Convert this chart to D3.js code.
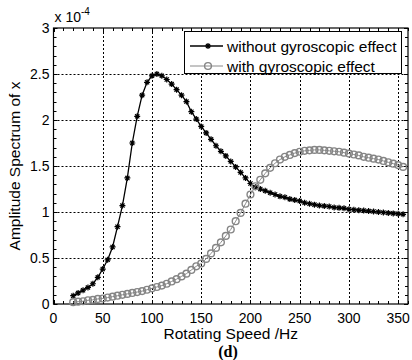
<!DOCTYPE html>
<html>
<head>
<meta charset="utf-8">
<script src="https://cdn.jsdelivr.net/npm/d3@7"></script>
<style>
  body { margin: 0; background: #fff; }
  text { font-family: "Liberation Sans", Arial, sans-serif; fill: #000; }
</style>
</head>
<body>
<div id="chart"></div>
<script>
// rotating speed, Hz
var speeds = [20, 25, 30, 35, 40, 45, 50, 55, 60, 65, 70, 75, 80, 85, 90, 95,
    100, 105, 110, 115, 120, 125, 130, 135, 140, 145, 150, 155, 160, 165, 170, 175,
    180, 185, 190, 195, 200, 205, 210, 215, 220, 225, 230, 235, 240, 245, 250, 255,
    260, 265, 270, 275, 280, 285, 290, 295, 300, 305, 310, 315, 320, 325, 330, 335,
    340, 345, 350, 355];

// amplitude (x 1e-4)
var withoutGyro = [0.09, 0.12, 0.15, 0.18, 0.22, 0.29, 0.38, 0.48, 0.62, 0.84, 1.07, 1.37, 1.75, 2.04, 2.27, 2.41,
    2.48, 2.50, 2.48, 2.44, 2.39, 2.33, 2.27, 2.20, 2.09, 2.01, 1.93, 1.86, 1.79, 1.72, 1.66, 1.61,
    1.55, 1.49, 1.43, 1.37, 1.31, 1.27, 1.25, 1.23, 1.21, 1.19, 1.17, 1.16, 1.14, 1.13, 1.12, 1.10,
    1.09, 1.08, 1.07, 1.065, 1.06, 1.05, 1.045, 1.04, 1.03, 1.025, 1.02, 1.015, 1.01, 1.005, 1.0, 0.995,
    0.99, 0.985, 0.98, 0.975];

var withGyro = [0.02, 0.025, 0.03, 0.04, 0.045, 0.055, 0.06, 0.07, 0.08, 0.09, 0.10, 0.11, 0.12, 0.13, 0.14, 0.155,
    0.17, 0.185, 0.20, 0.22, 0.245, 0.27, 0.30, 0.33, 0.37, 0.41, 0.44, 0.49, 0.55, 0.61, 0.67, 0.74,
    0.81, 0.90, 0.99, 1.09, 1.19, 1.28, 1.35, 1.42, 1.48, 1.53, 1.57, 1.60, 1.62, 1.64, 1.655, 1.665,
    1.67, 1.675, 1.675, 1.67, 1.665, 1.66, 1.655, 1.645, 1.635, 1.625, 1.615, 1.60, 1.59, 1.58, 1.57, 1.555,
    1.54, 1.525, 1.51, 1.49];

var xTicks = [0, 50, 100, 150, 200, 250, 300, 350];
var yTicks = [0, 0.5, 1, 1.5, 2, 2.5, 3];
var yTickLabels = ['0', '0.5', '1', '1.5', '2', '2.5', '3'];
var seriesNames = ['without gyroscopic effect', 'with gyroscopic effect'];

var width = 412, height = 360;
var margin = {top: 28, right: 4, bottom: 56, left: 53.5};

var svg = d3.select('#chart')
    .append('svg')
    .attr('width', width)
    .attr('height', height);

var x = d3.scaleLinear()
    .domain([0, 360])
    .range([margin.left, width - margin.right]);

var y = d3.scaleLinear()
    .domain([0, 3])
    .range([height - margin.bottom, margin.top]);

var x0 = x.range()[0], x1 = x.range()[1];
var y0 = y.range()[0], y1 = y.range()[1];

// grid
var grid = svg.append('g')
    .attr('stroke', '#000')
    .attr('stroke-width', 1)
    .attr('stroke-dasharray', '2,2');

grid.selectAll('.gx')
    .data(xTicks.filter(function(d) { return d > 0; }))
    .enter()
    .append('line')
    .attr('x1', function(d) { return Math.round(x(d)) + 0.5; })
    .attr('x2', function(d) { return Math.round(x(d)) + 0.5; })
    .attr('y1', y1)
    .attr('y2', y0);

grid.selectAll('.gy')
    .data(yTicks.filter(function(d) { return d > 0 && d < 3; }))
    .enter()
    .append('line')
    .attr('x1', x0)
    .attr('x2', x1)
    .attr('y1', function(d) { return Math.round(y(d)) + 0.5; })
    .attr('y2', function(d) { return Math.round(y(d)) + 0.5; });

// minor + major ticks, inward on all four sides
var ticks = svg.append('g')
    .attr('stroke', '#000')
    .attr('stroke-width', 1);

var xMinor = x.ticks(36);
var yMinor = y.ticks(30);

xMinor.forEach(function(d) {
    var px = Math.round(x(d)) + 0.5;
    var len = xTicks.indexOf(d) >= 0 ? 4 : 3;
    ticks.append('line').attr('x1', px).attr('x2', px).attr('y1', y0).attr('y2', y0 - len);
    ticks.append('line').attr('x1', px).attr('x2', px).attr('y1', y1).attr('y2', y1 + len);
});

yMinor.forEach(function(d) {
    var py = Math.round(y(d)) + 0.5;
    var len = yTicks.indexOf(d) >= 0 ? 4 : 3;
    ticks.append('line').attr('x1', x0).attr('x2', x0 + len).attr('y1', py).attr('y2', py);
    ticks.append('line').attr('x1', x1).attr('x2', x1 - len).attr('y1', py).attr('y2', py);
});

// frame
svg.append('rect')
    .attr('x', x0)
    .attr('y', y1)
    .attr('width', x1 - x0)
    .attr('height', y0 - y1)
    .attr('fill', 'none')
    .attr('stroke', '#000')
    .attr('stroke-width', 1.2);

// tick labels
svg.append('g')
    .selectAll('text')
    .data(xTicks)
    .enter()
    .append('text')
    .attr('x', function(d) { return x(d); })
    .attr('y', y0 + 19)
    .attr('text-anchor', 'middle')
    .attr('font-size', 14)
    .text(function(d) { return d; });

svg.append('g')
    .selectAll('text')
    .data(yTicks)
    .enter()
    .append('text')
    .attr('x', x0 - 4)
    .attr('y', function(d) { return y(d) + 5; })
    .attr('text-anchor', 'end')
    .attr('font-size', 14)
    .text(function(d, i) { return yTickLabels[i]; });

// exponent
var expo = svg.append('text')
    .attr('x', x0 + 1)
    .attr('y', y1 - 6)
    .attr('font-size', 14);
expo.append('tspan').text('x 10');
expo.append('tspan')
    .attr('dy', -7)
    .attr('font-size', 10)
    .text('-4');

// axis titles
svg.append('text')
    .attr('x', (x0 + x1) / 2)
    .attr('y', 339)
    .attr('text-anchor', 'middle')
    .attr('font-size', 15.5)
    .text('Rotating Speed /Hz');

svg.append('text')
    .attr('transform', 'translate(20,' + ((y0 + y1) / 2) + ') rotate(-90)')
    .attr('text-anchor', 'middle')
    .attr('font-size', 15.5)
    .text('Amplitude Spectrum of x');

svg.append('text')
    .attr('x', 228)
    .attr('y', 357)
    .attr('text-anchor', 'middle')
    .attr('font-size', 16)
    .attr('font-weight', 'bold')
    .style('font-family', '"Liberation Serif", "Times New Roman", serif')
    .text('(d)');

// curves
var line = d3.line()
    .x(function(d) { return x(d[0]); })
    .y(function(d) { return y(d[1]); });

var withData = speeds.map(function(s, i) { return [s, withGyro[i]]; });
var withoutData = speeds.map(function(s, i) { return [s, withoutGyro[i]]; });

function starPath(r) {
    var d = 'M' + (-r) + ',0L' + r + ',0M0,' + (-r) + 'L0,' + r;
    var k = r * 0.7;
    d += 'M' + (-k) + ',' + (-k) + 'L' + k + ',' + k + 'M' + (-k) + ',' + k + 'L' + k + ',' + (-k);
    return d;
}

function drawGray(g, data) {
    g.append('path')
        .datum(data)
        .attr('d', line)
        .attr('fill', 'none')
        .attr('stroke', '#8a8a8a')
        .attr('stroke-width', 1);
    g.selectAll('circle')
        .data(data)
        .enter()
        .append('circle')
        .attr('cx', function(d) { return x(d[0]); })
        .attr('cy', function(d) { return y(d[1]); })
        .attr('r', 3.4)
        .attr('fill', 'none')
        .attr('stroke', '#858585')
        .attr('stroke-width', 1.4);
}

function drawBlack(g, data) {
    g.append('path')
        .datum(data)
        .attr('d', line)
        .attr('fill', 'none')
        .attr('stroke', '#000')
        .attr('stroke-width', 1.3);
    g.selectAll('.star')
        .data(data)
        .enter()
        .append('path')
        .attr('transform', function(d) { return 'translate(' + x(d[0]) + ',' + y(d[1]) + ')'; })
        .attr('d', starPath(3))
        .attr('stroke', '#000')
        .attr('stroke-width', 1.2);
}

drawBlack(svg.append('g'), withoutData);
drawGray(svg.append('g'), withData);

// legend
var legend = svg.append('g');
legend.append('rect')
    .attr('x', 184.5)
    .attr('y', 31.5)
    .attr('width', 217)
    .attr('height', 42)
    .attr('fill', '#fff')
    .attr('stroke', '#000')
    .attr('stroke-width', 1);

var row1 = legend.append('g');
row1.append('line')
    .attr('x1', 190).attr('x2', 223).attr('y1', 46).attr('y2', 46)
    .attr('stroke', '#000').attr('stroke-width', 1.3);
row1.append('path')
    .attr('transform', 'translate(208,46)')
    .attr('d', starPath(3))
    .attr('stroke', '#000')
    .attr('stroke-width', 1.2);

var row2 = legend.append('g');
row2.append('line')
    .attr('x1', 190).attr('x2', 223).attr('y1', 66).attr('y2', 66)
    .attr('stroke', '#8a8a8a').attr('stroke-width', 1);
row2.append('circle')
    .attr('cx', 208).attr('cy', 66).attr('r', 3.4)
    .attr('fill', 'none').attr('stroke', '#858585').attr('stroke-width', 1.4);

legend.selectAll('.ltext')
    .data(seriesNames)
    .enter()
    .append('text')
    .attr('x', 227)
    .attr('y', function(d, i) { return 51.5 + i * 20; })
    .attr('font-size', 15.5)
    .text(function(d) { return d; });
</script>
</body>
</html>
